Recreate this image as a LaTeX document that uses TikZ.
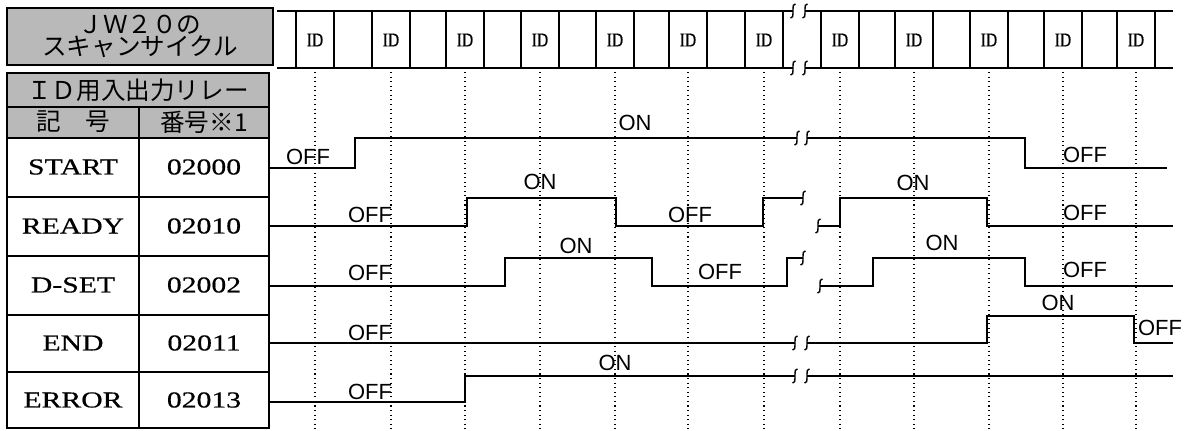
\documentclass[tikz,border=0pt]{standalone}
\usepackage{fontspec}
\setmainfont{Liberation Serif}
\setsansfont{Liberation Sans}
\newfontfamily\jpfont{Noto Sans CJK JP}
\newfontfamily\wideserif[FakeStretch=1.3, FakeBold=0.6]{Liberation Serif}
\newfontfamily\narrowserif[FakeStretch=0.8, FakeBold=0.5]{Liberation Serif}
\usetikzlibrary{positioning, calc}

\begin{document}
\begin{tikzpicture}[x=0.02cm, y=-0.02cm,
    hdr/.style={draw, line width=1.2pt, fill=gray!55},
    jp/.style={font=\jpfont\fontsize{14}{16}\selectfont},
    cell/.style={font=\wideserif\fontsize{13}{15}\selectfont},
    lvl/.style={font=\sffamily\fontsize{12.5}{14}\selectfont, inner sep=0pt},
    idtxt/.style={font=\narrowserif\fontsize{11}{12}\selectfont, inner sep=0pt},
    sig/.style={line width=1.1pt},
    grid/.style={dotted, line width=0.6pt},
    scan/.style={line width=1pt},
    brk/.pic={\draw[line width=0.8pt] (2.5,-7) .. controls (0,-7) and (0,-5) .. (0,-2)
               -- (0,2) .. controls (0,5) and (0,7) .. (-2.5,7);}
]
\useasboundingbox (0,0) rectangle (1191,430);

% Header boxes
\draw[hdr] (7,8) rectangle (273,65);
\node[jp] (jw) at (140,25) {ＪＷ２０の};
\node[jp] (cycle) at (140,47) {スキャンサイクル};
\draw[hdr] (7,73) rectangle (269,138);
\draw[line width=0.8pt] (7,107) -- (269,107) (139,107) -- (139,138);
\node[jp] (relay) at (138,90) {ＩＤ用入出力リレー};
\node[jp] (sym) at (73,122) {記　号};
\node[jp] (num) at (204,122) {番号※1};

% Signal table
\draw[line width=1.2pt] (7,138) rectangle (269,428);
\draw[line width=0.8pt] (139,138) -- (139,428);
\foreach \y in {197,256,315,372}
    \draw[line width=0.8pt] (7,\y) -- (269,\y);
\foreach \nm/\no/\y in {START/02000/167, READY/02010/226, D-SET/02002/285, END/02011/343, ERROR/02013/400} {
    \node[cell] (nm\y) at (73,\y) {\nm};
    \node[cell] (no\y) at (204,\y) {\no};
}

% Scan cycle
\draw[scan] (277,11) -- (793,11) (805,11) -- (1173,11);
\draw[scan] (277,68) -- (793,68) (805,68) -- (1173,68);
\pic at (793,11) {brk}; \pic at (805,11) {brk};
\pic at (793,68) {brk}; \pic at (805,68) {brk};
\foreach \x in {315,391,465,540,615,688,764,840,914,989,1063,1136} {
    \draw[scan] (\x-19,11) -- (\x-19,68) (\x+19,11) -- (\x+19,68);
    \node[idtxt] (id\x) at (\x,40) {ID};
    \draw[grid] (\x,72) -- (\x,430);
}

% START
\draw[sig] (270,168) -- (355,168) -- (355,138) -- (797,138) (807,138) -- (1025,138) -- (1025,168) -- (1167,168);
\pic at (797,138) {brk}; \pic at (807,138) {brk};
\node[lvl] (st1) at (308,157) {OFF};
\node[lvl] (st2) at (635,123) {ON};
\node[lvl] (st3) at (1085,155) {OFF};

% READY
\draw[sig] (270,226) -- (467,226) -- (467,198) -- (616,198) -- (616,226) -- (763,226) -- (763,198) -- (803,198);
\draw[sig] (818,226) -- (840,226) -- (840,198) -- (987,198) -- (987,226) -- (1173,226);
\pic at (803,198) {brk}; \pic at (818,226) {brk};
\node[lvl] (rd1) at (370,215) {OFF};
\node[lvl] (rd2) at (540,182) {ON};
\node[lvl] (rd3) at (690,215) {OFF};
\node[lvl] (rd4) at (913,183) {ON};
\node[lvl] (rd5) at (1085,213) {OFF};

% D-SET
\draw[sig] (270,286) -- (505,286) -- (505,258) -- (652,258) -- (652,286) -- (787,286) -- (787,258) -- (803,258);
\draw[sig] (820,286) -- (873,286) -- (873,258) -- (1025,258) -- (1025,286) -- (1173,286);
\pic at (803,258) {brk}; \pic at (820,286) {brk};
\node[lvl] (ds1) at (370,273) {OFF};
\node[lvl] (ds2) at (576,246) {ON};
\node[lvl] (ds3) at (720,272) {OFF};
\node[lvl] (ds4) at (942,243) {ON};
\node[lvl] (ds5) at (1085,270) {OFF};

% END
\draw[sig] (270,343) -- (795,343) (807,343) -- (987,343) -- (987,316) -- (1134,316) -- (1134,343) -- (1173,343);
\pic at (795,343) {brk}; \pic at (807,343) {brk};
\node[lvl] (en1) at (370,333) {OFF};
\node[lvl] (en2) at (1058,303) {ON};
\node[lvl] (en3) at (1160,328) {OFF};

% ERROR
\draw[sig] (270,402) -- (465,402) -- (465,376) -- (795,376) (807,376) -- (1173,376);
\pic at (795,376) {brk}; \pic at (807,376) {brk};
\node[lvl] (er1) at (370,392) {OFF};
\node[lvl] (er2) at (615,363) {ON};
\end{tikzpicture}
\end{document}
